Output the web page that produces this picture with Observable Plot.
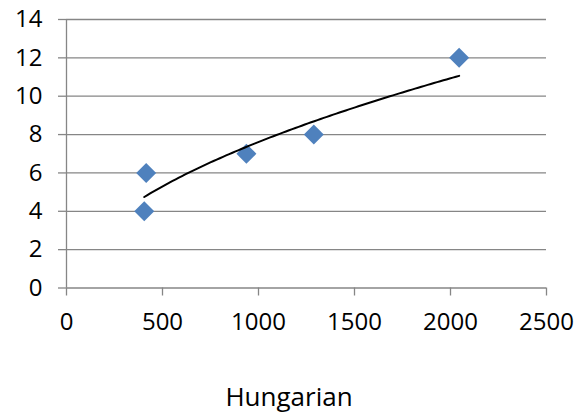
<!DOCTYPE html>
<html>
<head>
<meta charset="utf-8">
<script src="https://cdn.jsdelivr.net/npm/d3@7"></script>
<script src="https://cdn.jsdelivr.net/npm/@observablehq/plot@0.6"></script>
<style>
  body { margin: 0; background: #fff; }
</style>
</head>
<body>
<div id="chart"></div>
<script>
// Observed pairs
const xValues = [405, 415, 937, 1288, 2045];
const yValues = [4, 6, 7, 8, 12];

// Axis ticks and title
const xTicks = [0, 500, 1000, 1500, 2000, 2500];
const yTicks = [0, 2, 4, 6, 8, 10, 12, 14];
const xTitle = "Hungarian";

const points = xValues.map((x, i) => ({x, y: yValues[i]}));

// Power trendline y = a·x^b, least-squares fit on the log–log values
const lx = xValues.map(Math.log);
const ly = yValues.map(Math.log);
const mx = d3.mean(lx), my = d3.mean(ly);
const b = d3.sum(lx, (v, i) => (v - mx) * (ly[i] - my)) / d3.sum(lx, v => (v - mx) ** 2);
const a = Math.exp(my - b * mx);
const [xMin, xMax] = d3.extent(xValues);
const trend = d3.range(0, 101).map(k => {
  const x = xMin + (xMax - xMin) * k / 100;
  return {x, y: a * Math.pow(x, b)};
});

const gridColor = "#868686";

const chart = Plot.plot({
  width: 577,
  height: 413,
  marginLeft: 66,
  marginRight: 31,
  marginTop: 19,
  marginBottom: 125.5,
  style: {
    fontFamily: "'Open Sans', sans-serif",
    fontSize: "24px",
    color: "#000",
    background: "#fff",
    overflow: "visible"
  },
  x: {domain: [0, 2500]},
  y: {domain: [0, 14]},
  marks: [
    Plot.ruleY(yTicks, {stroke: gridColor, strokeWidth: 1.3}),
    Plot.ruleX([0], {stroke: gridColor, strokeWidth: 1.3}),
    Plot.axisY({ticks: yTicks, tickFormat: d3.format("d"), tickSize: 8, tickPadding: 16, stroke: gridColor, strokeWidth: 1.3, fill: "#000", label: null}),
    Plot.axisX({ticks: xTicks, tickFormat: d3.format("d"), tickSize: 8, tickPadding: 17, stroke: gridColor, strokeWidth: 1.3, fill: "#000", label: null}),
    Plot.dot(points, {x: "x", y: "y", symbol: "diamond2", r: 9, fill: "#4F81BD", stroke: "none"}),
    Plot.line(trend, {x: "x", y: "y", stroke: "#000", strokeWidth: 2}),
    Plot.text([xTitle], {text: d => d, frameAnchor: "bottom", dx: -17.5, dy: 118, fontSize: 26, fill: "#000"})
  ]
});

document.getElementById("chart").appendChild(chart);
</script>
</body>
</html>
